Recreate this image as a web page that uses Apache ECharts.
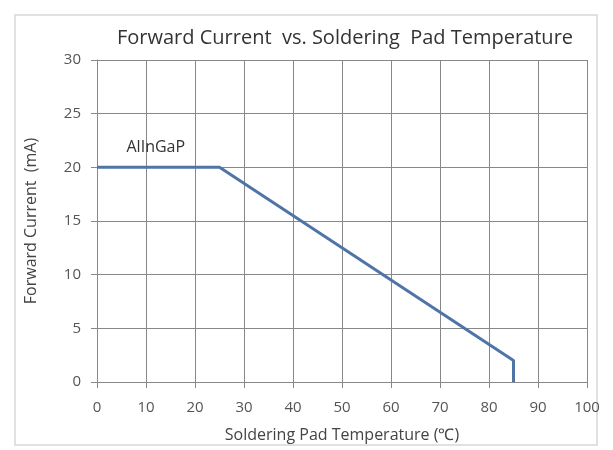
<!DOCTYPE html>
<html>
<head>
<meta charset="utf-8">
<script src="https://cdn.jsdelivr.net/npm/echarts@6/dist/echarts.min.js"></script>
<style>
  html, body { margin: 0; padding: 0; background: #fff; }
  #chart { width: 613px; height: 450px; }
</style>
</head>
<body>
<div id="chart"></div>
<script>
  // 温度 (°C) 与正向电流 (mA)
  const temps = [0, 25, 85, 85]
  const currents = [20, 20, 2, 0]
  const xTicks = [0, 10, 20, 30, 40, 50, 60, 70, 80, 90, 100]
  const yTicks = [0, 5, 10, 15, 20, 25, 30]
  const seriesName = 'AlInGaP'
  const labelPos = [12, 21.9]

  const chart = echarts.init(document.getElementById('chart'))
  const font = 'Open Sans, Liberation Sans, sans-serif'

  chart.setOption({
    animation: false,
    title: {
      text: 'Forward Current  vs. Soldering  Pad Temperature',
      left: 340,
      top: 23,
      textAlign: 'center',
      textStyle: { fontFamily: font, fontSize: 20, fontWeight: 'normal', color: '#333' }
    },
    graphic: [{
      type: 'rect',
      shape: { x: 15, y: 15, width: 582, height: 430 },
      style: { fill: 'none', stroke: '#d8d8d8', lineWidth: 1.5 },
      silent: true
    }],
    grid: { left: 97, right: 26, top: 60, bottom: 68 },
    xAxis: {
      type: 'value',
      min: xTicks[0],
      max: xTicks[xTicks.length - 1],
      interval: 10,
      name: 'Soldering Pad Temperature (\u2103)',
      nameLocation: 'middle',
      nameGap: 45,
      nameTextStyle: { fontFamily: font, fontSize: 16, color: '#444' },
      axisLine: { show: true, lineStyle: { color: '#888', width: 1 } },
      axisTick: { show: true, length: 6, lineStyle: { color: '#888' } },
      axisLabel: { fontFamily: font, fontSize: 15, color: '#555', margin: 18 },
      splitLine: { show: true, lineStyle: { color: '#888', width: 1 } }
    },
    yAxis: {
      type: 'value',
      min: yTicks[0],
      max: yTicks[yTicks.length - 1],
      interval: 5,
      name: 'Forward Current  (mA)',
      nameLocation: 'middle',
      nameGap: 58,
      nameTextStyle: { fontFamily: font, fontSize: 16, color: '#444' },
      axisLine: { show: true, lineStyle: { color: '#888', width: 1 } },
      axisTick: { show: true, length: 6, lineStyle: { color: '#888' } },
      axisLabel: { fontFamily: font, fontSize: 15, color: '#555', margin: 16 },
      splitLine: { show: true, lineStyle: { color: '#888', width: 1 } }
    },
    series: [{
      name: seriesName,
      type: 'line',
      data: temps.map((t, i) => [t, currents[i]]),
      symbol: 'none',
      lineStyle: { color: '#4f74a8', width: 3 },
      markPoint: {
        symbol: 'circle',
        symbolSize: 0,
        data: [{ coord: labelPos }],
        label: {
          show: true,
          formatter: seriesName,
          fontFamily: font,
          fontSize: 16,
          color: '#333'
        }
      }
    }]
  })
</script>
</body>
</html>
